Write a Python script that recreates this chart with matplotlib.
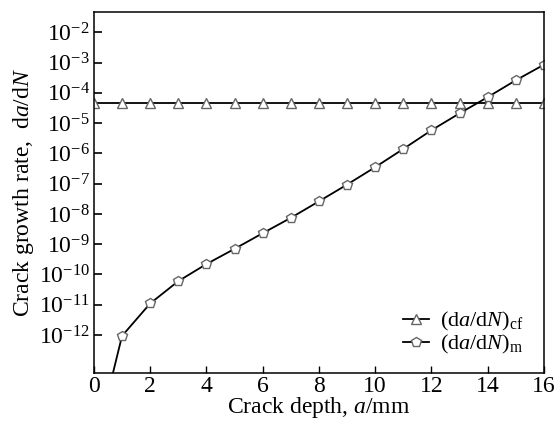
import numpy as np
import matplotlib.pyplot as plt

# Crack depth a (mm) and growth rates
depth = np.arange(0, 17)
rate_cf = [4.7e-5] * 17
rate_m = [1.5e-16, 9.3e-13, 1.1e-11, 6.0e-11, 2.2e-10, 7.0e-10, 2.3e-9, 7.4e-9,
          2.6e-8, 9.3e-8, 3.5e-7, 1.4e-6, 5.8e-6, 2.1e-5, 7.2e-5, 2.6e-4, 8.5e-4]

xticks = [0, 2, 4, 6, 8, 10, 12, 14, 16]
yticks = [10.0 ** e for e in range(-12, -1)]


def main():
    plt.rcParams['font.family'] = ['Liberation Serif', 'DejaVu Serif']
    plt.rcParams['mathtext.fontset'] = 'custom'
    plt.rcParams['mathtext.rm'] = 'Liberation Serif'
    plt.rcParams['mathtext.it'] = 'Liberation Serif:italic'

    fig = plt.figure(figsize=(5.59, 4.30), dpi=100, facecolor='white')
    ax = fig.add_axes([0.168, 0.133, 0.805, 0.839])

    ax.plot(depth, rate_cf, color='black', lw=1.3, marker='^', ms=6.5,
            mfc='white', mec='#666666', mew=1.0,
            label=r'(d$a$/d$N$)$_{\rm cf}$')
    ax.plot(depth, rate_m, color='black', lw=1.3, marker='p', ms=7.5,
            mfc='white', mec='#666666', mew=1.0,
            label=r'(d$a$/d$N$)$_{\rm m}$')

    ax.set_yscale('log')
    ax.set_xlim(0, 16)
    ax.set_ylim(10 ** -13.25, 10 ** -1.33)
    ax.set_xticks(xticks)
    ax.set_yticks(yticks)
    ax.set_yticklabels([r'$10^{%d}$' % e for e in range(-12, -1)])

    ax.tick_params(axis='x', which='both', direction='in', top=False,
                   length=5, width=1, labelsize=17, pad=2)
    ax.tick_params(axis='y', which='major', direction='in', right=False,
                   length=6, width=1.2, labelsize=17, pad=3)
    ax.tick_params(axis='y', which='minor', direction='in', right=False,
                   length=3.5, width=0.9)
    for s in ax.spines.values():
        s.set_linewidth(1.1)

    ax.set_xlabel(r'Crack depth, $a$/mm', fontsize=17, labelpad=-1)
    ax.set_ylabel(r'Crack growth rate,  d$a$/d$N$', fontsize=17, labelpad=2)

    ax.legend(loc='lower right', bbox_to_anchor=(0.985, 0.01), frameon=False,
              fontsize=16, handlelength=1.2, handletextpad=0.5,
              labelspacing=0.0, borderaxespad=0.2)

    fig.savefig('out.png', dpi=100, facecolor='white')


if __name__ == '__main__':
    main()
